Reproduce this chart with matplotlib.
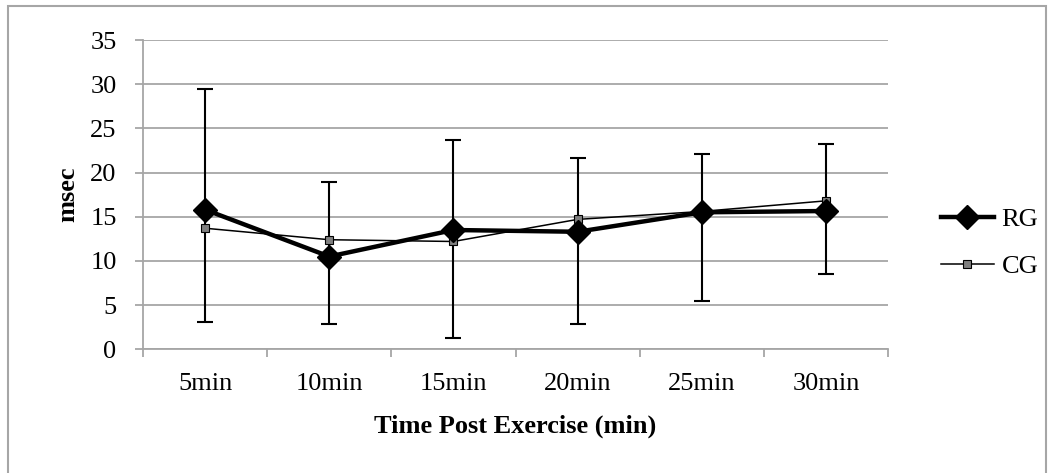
import numpy as np
import matplotlib
matplotlib.use("Agg")
import matplotlib.pyplot as plt
from matplotlib.patches import Rectangle

# values
times = ["5min", "10min", "15min", "20min", "25min", "30min"]
rg = [15.8, 10.5, 13.5, 13.3, 15.5, 15.65]
cg = [13.7, 12.4, 12.2, 14.7, 15.6, 16.8]
err_top = [29.4, 18.9, 23.7, 21.6, 22.1, 23.2]
err_bottom = [3.1, 2.9, 1.3, 2.9, 5.5, 8.5]
y_ticks = [0, 5, 10, 15, 20, 25, 30, 35]

plt.rcParams["font.family"] = ["Liberation Serif", "DejaVu Serif"]
grey = "#a6a6a6"
fs = 19

fig = plt.figure(figsize=(10.5, 4.73), dpi=100)
# outer chart border
fig.patches.append(Rectangle((8 / 1050, -0.1), 1038 / 1050, 1.1 - 6 / 473,
                             transform=fig.transFigure, fill=False,
                             edgecolor=grey, linewidth=1.5))

ax = fig.add_axes([143 / 1050, 1 - 349.3 / 473, 745 / 1050, 309.3 / 473])
x = np.arange(len(times))
rg_arr = np.array(rg)
yerr = [rg_arr - np.array(err_bottom), np.array(err_top) - rg_arr]

ax.errorbar(x, rg, yerr=yerr, fmt="none", ecolor="black", elinewidth=1.5,
            capsize=5.8, capthick=1.5, zorder=2)
ax.plot(x, cg, color="black", linewidth=1.1, marker="s", markersize=6,
        markerfacecolor="#7f7f7f", markeredgecolor="black",
        markeredgewidth=0.8, label="CG", zorder=3)
ax.plot(x, rg, color="black", linewidth=3.2, marker="D", markersize=12,
        label="RG", zorder=4)

ax.set_xlim(-0.5, len(times) - 0.5)
ax.set_ylim(0, 35)
ax.set_yticks(y_ticks)
ax.grid(axis="y", color=grey, linewidth=1.3)
ax.set_axisbelow(True)

ax.set_xticks(x)
ax.set_xticklabels(times)
ax.set_xticks(np.arange(len(times) + 1) - 0.5, minor=True)
ax.tick_params(axis="x", which="major", length=0, pad=17, labelsize=fs)
ax.tick_params(axis="x", which="minor", length=6, width=1.3, color=grey,
               direction="out")
ax.tick_params(axis="y", length=6, width=1.3, color=grey, pad=13,
               labelsize=fs)

for side in ["top", "right"]:
    ax.spines[side].set_visible(False)
for side in ["left", "bottom"]:
    ax.spines[side].set_color(grey)
    ax.spines[side].set_linewidth(1.3)

ax.set_ylabel("msec", fontsize=fs, fontweight="bold", labelpad=8)
ax.set_xlabel("Time Post Exercise (min)", fontsize=fs, fontweight="bold",
              labelpad=14)

handles, labels = ax.get_legend_handles_labels()
fig.legend(handles[::-1], labels[::-1], loc="center left",
           bbox_to_anchor=(917 / 1050, 1 - 243 / 473), frameon=False,
           fontsize=fs, handlelength=2.0, labelspacing=0.9,
           handletextpad=0.3)

fig.savefig("out.png", dpi=100)
